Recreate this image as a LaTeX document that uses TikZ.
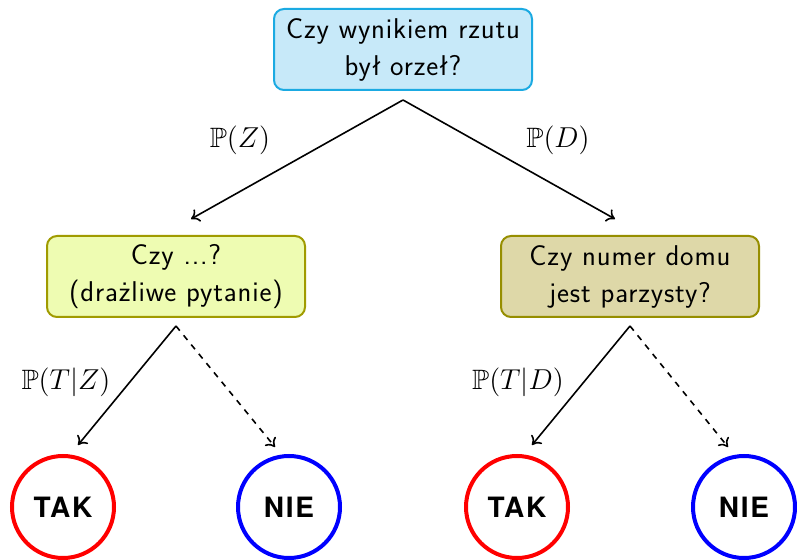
\documentclass[tikz,border=0pt]{standalone}
\usepackage{fontspec}
\usepackage{amsmath}
\usepackage{amssymb}
\usepackage{tikz}
\usetikzlibrary{arrows.meta, positioning, calc}
\newfontfamily\answerfont[LetterSpace=6]{TeX Gyre Heros}
\newfontfamily\questionfont[LetterSpace=3]{Latin Modern Sans}
\definecolor{coinblue}{RGB}{199, 233, 249}
\definecolor{coinedge}{RGB}{27, 170, 226}
\definecolor{limefill}{RGB}{238, 252, 178}
\definecolor{limeedge}{RGB}{160, 155, 0}
\definecolor{olivefill}{RGB}{222, 216, 168}
\definecolor{oliveedge}{RGB}{150, 142, 0}
\definecolor{yesred}{RGB}{255, 0, 0}
\definecolor{noblue}{RGB}{0, 0, 255}

\tikzset{
    question/.style={rounded corners=5pt, line width=1pt, minimum width=129pt,
        minimum height=40.5pt, align=center,
        font=\questionfont\fontsize{14.3}{18.5}\selectfont},
    answer/.style={circle, line width=2pt, minimum size=51pt,
        font=\answerfont\bfseries\fontsize{14}{17}\selectfont},
    branch/.style={line width=0.8pt, -{To[length=4pt, width=7pt]}},
    prob/.style={font=\fontsize{14}{16}\selectfont}
}

\begin{document}
\begin{tikzpicture}[x=0.5pt, y=-0.5pt]
        \useasboundingbox (0,0) rectangle (797,560);

        % questions
        \node[question, draw=coinedge, fill=coinblue] (coin) at (403,49.5)
            {Czy wynikiem rzutu\\był orzeł?};
        \node[question, draw=limeedge, fill=limefill] (sensitive) at (176,276.5)
            {Czy ...?\\(drażliwe pytanie)};
        \node[question, draw=oliveedge, fill=olivefill] (house) at (630,276.5)
            {Czy numer domu\\jest parzysty?};

        % answers
        \node[answer, draw=yesred] (yesZ) at (63,507) {TAK};
        \node[answer, draw=noblue] (noZ) at (289,507) {NIE};
        \node[answer, draw=yesred] (yesD) at (517,507) {TAK};
        \node[answer, draw=noblue] (noD) at (744,507) {NIE};

        % fork points and arrow ends
        \coordinate (coinfork) at ($(coin.south)+(0,9)$);
        \coordinate (sensfork) at ($(sensitive.south)+(0,8)$);
        \coordinate (housefork) at ($(house.south)+(0,8)$);
        \coordinate (toZ) at ($(sensitive.north)+(15,-16)$);
        \coordinate (toD) at ($(house.north)+(-15,-16)$);
        \coordinate (toyesZ) at ($(yesZ.north)+(15,-9)$);
        \coordinate (tonoZ) at ($(noZ.north)+(-14,-7)$);
        \coordinate (toyesD) at ($(yesD.north)+(15,-9)$);
        \coordinate (tonoD) at ($(noD.north)+(-16,-7)$);

        \draw[branch] (coinfork) -- (toZ);
        \draw[branch] (coinfork) -- (toD);
        \draw[branch] (sensfork) -- (toyesZ);
        \draw[branch, dashed] (sensfork) -- (tonoZ);
        \draw[branch] (housefork) -- (toyesD);
        \draw[branch, dashed] (housefork) -- (tonoD);

        % probabilities
        \node[prob] (pZ) at (240,140) {$\mathbb{P}(Z)$};
        \node[prob] (pD) at (558,140) {$\mathbb{P}(D)$};
        \node[prob] (pTZ) at (66,382) {$\mathbb{P}(T|Z)$};
        \node[prob] (pTD) at (518,382) {$\mathbb{P}(T|D)$};
    \end{tikzpicture}
\end{document}
